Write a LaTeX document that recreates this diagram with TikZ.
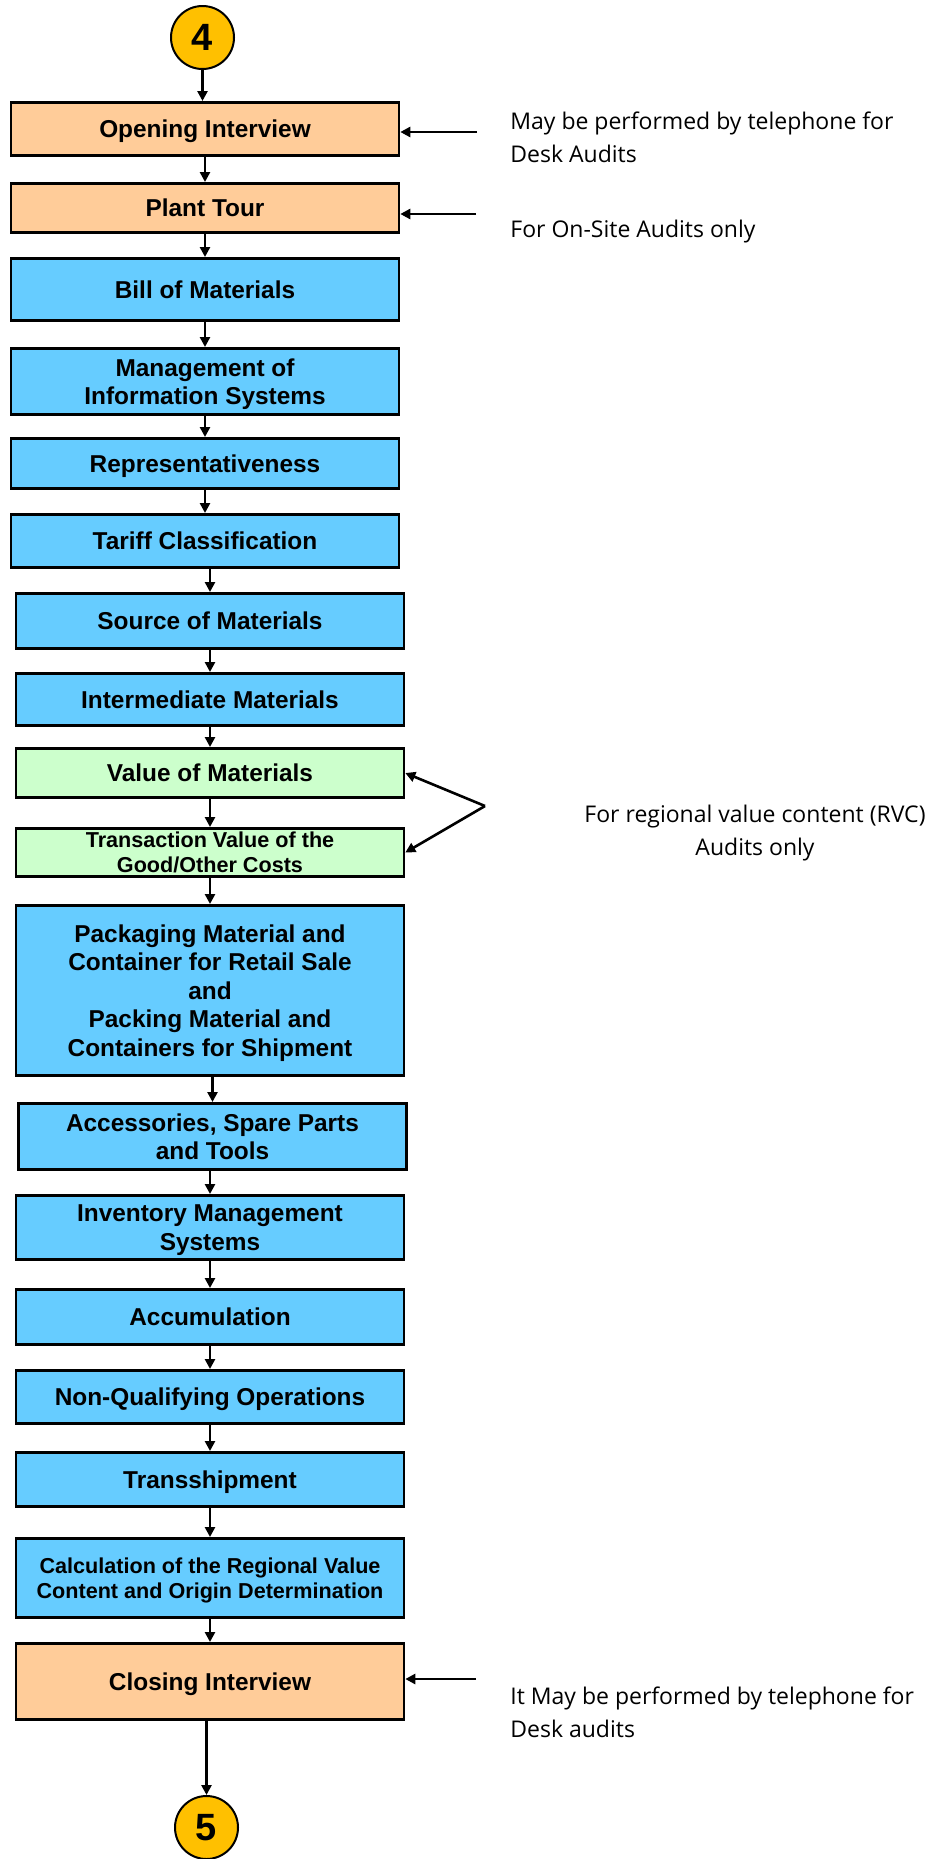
\documentclass[tikz,border=0pt]{standalone}
\usepackage{fontspec}
\setmainfont{Liberation Sans}
\newfontfamily\notefont{Open Sans}
\usetikzlibrary{positioning,arrows.meta}

\definecolor{peach}{HTML}{FFCC99}
\definecolor{skyblue}{HTML}{66CCFF}
\definecolor{mint}{HTML}{CCFFCC}
\definecolor{amber}{HTML}{FFC000}

\begin{document}
\begin{tikzpicture}[x=0.5pt, y=-0.5pt,
    box/.style={draw, line width=1.3pt, minimum width=194pt, align=center, inner sep=1pt, text depth=0pt,
        font=\bfseries\fontsize{12.2pt}{14.2pt}\selectfont},
    interview/.style={box, fill=peach},
    task/.style={box, fill=skyblue},
    rvc/.style={box, fill=mint},
    small/.style={font=\bfseries\fontsize{10.8pt}{12.5pt}\selectfont},
    connector/.style={circle, draw, line width=1pt, fill=amber, minimum size=31.5pt, inner sep=0pt,
        font=\bfseries\fontsize{19pt}{19pt}\selectfont},
    note/.style={inner sep=0pt, align=left, font=\notefont\fontsize{11.5pt}{16.2pt}\selectfont},
    link/.style={line width=1.3pt, -{Triangle[length=5pt, width=5pt]}}]

    \useasboundingbox (0,0) rectangle (937,1859);

    % main chain
    \node[connector] (c4) at (202.5,37.5) {4};
    \node[interview, minimum height=26.7pt] (open) [below=15.5pt of c4, xshift=1.25pt] {Opening Interview};
    \node[interview, minimum height=24.7pt] (plant) [below=12.5pt of open] {Plant Tour};
    \node[task, minimum height=31.2pt] (bom) [below=11.5pt of plant] {Bill of Materials};
    \node[task, minimum height=33.2pt] (mis) [below=12.5pt of bom] {Management of\\Information Systems};
    \node[task, minimum height=25.2pt] (repr) [below=10.5pt of mis] {Representativeness};
    \node[task, minimum height=26.7pt] (tariff) [below=11.5pt of repr] {Tariff Classification};
    \node[task, minimum height=27.7pt] (source) [below=11.5pt of tariff, xshift=2.5pt] {Source of Materials};
    \node[task, minimum height=26.2pt] (inter) [below=11pt of source] {Intermediate Materials};
    \node[rvc, minimum height=24.7pt] (value) [below=10pt of inter] {Value of Materials};
    \node[rvc, small, minimum height=24.2pt] (trans) [below=14pt of value] {Transaction Value of the\\Good/Other Costs};
    \node[task, minimum height=85.2pt] (pack) [below=13pt of trans] {Packaging Material and\\Container for Retail Sale\\and\\Packing Material and\\Containers for Shipment};
    \node[task, minimum height=33.2pt] (acc) [below=12.5pt of pack, xshift=1.25pt] {Accessories, Spare Parts\\and Tools};
    \node[task, minimum height=32.2pt] (inv) [below=11.5pt of acc, xshift=-1.25pt] {Inventory Management\\Systems};
    \node[task, minimum height=27.7pt] (accum) [below=13.5pt of inv] {Accumulation};
    \node[task, minimum height=26.7pt] (nonq) [below=11.5pt of accum] {Non-Qualifying Operations};
    \node[task, minimum height=27.2pt] (ship) [below=13pt of nonq] {Transshipment};
    \node[task, small, minimum height=39.7pt] (calc) [below=14.5pt of ship] {Calculation of the Regional Value\\Content and Origin Determination};
    \node[interview, minimum height=38.2pt] (close) [below=11.5pt of calc] {Closing Interview};
    \node[connector] (c5) [below=37pt of close, xshift=-1.75pt] {5};

    \path[link]
        (c4.south) edge (c4.south |- open.north)
        (open.south -| plant.north) edge (plant.north)
        (plant.south -| bom.north) edge (bom.north)
        (bom.south -| mis.north) edge (mis.north)
        (mis.south -| repr.north) edge (repr.north)
        (repr.south -| tariff.north) edge (tariff.north)
        (tariff.south -| source.north) edge (source.north)
        (source.south -| inter.north) edge (inter.north)
        (inter.south -| value.north) edge (value.north)
        (value.south -| trans.north) edge (trans.north)
        (trans.south -| pack.north) edge (pack.north)
        (pack.south -| acc.north) edge (acc.north)
        (acc.south -| inv.north) edge (inv.north)
        (inv.south -| accum.north) edge (accum.north)
        (accum.south -| nonq.north) edge (nonq.north)
        (nonq.south -| ship.north) edge (ship.north)
        (ship.south -| calc.north) edge (calc.north)
        (calc.south -| close.north) edge (close.north)
        (close.south -| c5.north) edge (c5.north);

    % side notes
    \coordinate (tip1) at (477,132);
    \coordinate (tip2) at (476,214);
    \coordinate (tip3) at (485,806);
    \coordinate (tip4) at (476,1679);

    \path[link]
        (tip1) edge (tip1 -| open.east)
        (tip2) edge (tip2 -| plant.east)
        (tip3) edge (value.east)
        (tip3) edge (trans.east)
        (tip4) edge (tip4 -| close.east);

    \node[note, anchor=base west] (desk) at (510,162) {May be performed by telephone for\\Desk Audits};
    \node[note, anchor=base west] (onsite) at (510,237) {For On-Site Audits only};
    \node[note, align=center, anchor=base] (rvcnote) at (755,855) {For regional value content (RVC)\\Audits only};
    \node[note, anchor=base west] (closenote) at (510,1737) {It May be performed by telephone for\\Desk audits};

\end{tikzpicture}
\end{document}
